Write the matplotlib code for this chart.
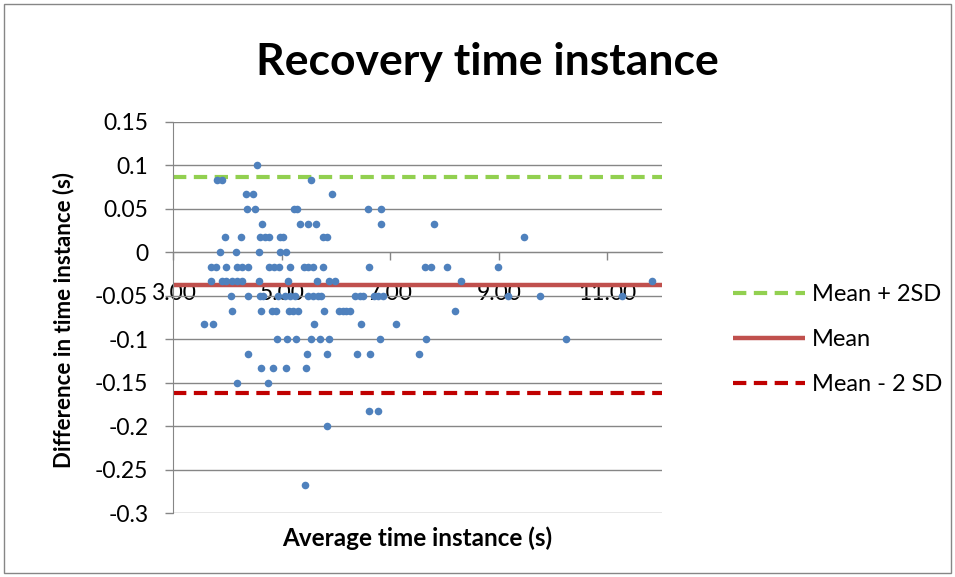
import matplotlib
matplotlib.use("Agg")
import matplotlib.pyplot as plt
from matplotlib.patches import Rectangle

plt.rcParams['font.family'] = ['Lato', 'DejaVu Sans']

# ---- data ----
avg_time = [
    4.54,
    3.81, 3.89, 5.53,
    4.34, 4.47, 5.93,
    4.36, 4.51, 5.23, 5.28, 6.59, 6.82,
    4.63, 5.33, 5.49, 5.63, 6.83, 7.81,
    3.96, 4.24, 4.60, 4.69, 4.77, 4.97, 5.03, 5.75, 5.84, 9.46,
    3.86, 4.15, 4.58, 4.97, 5.07,
    3.69, 3.79, 3.98, 4.17, 4.26, 4.38, 4.77, 4.86, 4.95, 5.15, 5.40, 5.49, 5.58, 5.76, 6.61, 7.64, 7.74, 8.05, 8.99,
    3.69, 3.89, 3.98, 4.08, 4.17, 4.26, 4.58, 5.12, 5.65, 5.87, 5.98, 8.30, 11.83,
    4.06, 4.38, 4.60, 4.66, 4.93, 5.06, 5.15, 5.24, 5.49, 5.58, 5.66, 5.73, 6.35, 6.44, 6.50, 6.69, 6.78, 6.87, 9.17, 9.76, 11.26,
    4.08, 4.62, 4.81, 4.89, 5.13, 5.21, 5.29, 5.78, 6.05, 6.12, 6.18, 6.26, 8.19,
    3.57, 3.74, 5.60, 6.45, 7.10,
    4.91, 5.09, 5.27, 5.53, 5.70, 5.86, 6.80, 7.66, 10.23,
    4.38, 5.46, 5.84, 6.39, 6.62, 7.53,
    4.62, 4.84, 5.08, 5.45,
    4.17, 4.75,
    6.61, 6.77,
    5.84,
    5.43,
]
diff_time = [
    0.100,
    0.083, 0.083, 0.083,
    0.067, 0.067, 0.067,
    0.050, 0.050, 0.050, 0.050, 0.050, 0.050,
    0.033, 0.033, 0.033, 0.033, 0.033, 0.033,
    0.017, 0.017, 0.017, 0.017, 0.017, 0.017, 0.017, 0.017, 0.017, 0.017,
    0.000, 0.000, 0.000, 0.000, 0.000,
    -0.017, -0.017, -0.017, -0.017, -0.017, -0.017, -0.017, -0.017, -0.017, -0.017, -0.017, -0.017, -0.017, -0.017, -0.017, -0.017, -0.017, -0.017, -0.017,
    -0.033, -0.033, -0.033, -0.033, -0.033, -0.033, -0.033, -0.033, -0.033, -0.033, -0.033, -0.033, -0.033,
    -0.050, -0.050, -0.050, -0.050, -0.050, -0.050, -0.050, -0.050, -0.050, -0.050, -0.050, -0.050, -0.050, -0.050, -0.050, -0.050, -0.050, -0.050, -0.050, -0.050, -0.050,
    -0.067, -0.067, -0.067, -0.067, -0.067, -0.067, -0.067, -0.067, -0.067, -0.067, -0.067, -0.067, -0.067,
    -0.083, -0.083, -0.083, -0.083, -0.083,
    -0.100, -0.100, -0.100, -0.100, -0.100, -0.100, -0.100, -0.100, -0.100,
    -0.117, -0.117, -0.117, -0.117, -0.117, -0.117,
    -0.133, -0.133, -0.133, -0.133,
    -0.150, -0.150,
    -0.183, -0.183,
    -0.200,
    -0.267,
]
line_x = [3.0, 12.0]
mean_val = -0.038
upper_val = 0.086
lower_val = -0.162
line_labels = ["Mean + 2SD", "Mean", "Mean - 2 SD"]
x_ticks = [3, 5, 7, 9, 11]
x_ticklabels = ["3.00", "5.00", "7.00", "9.00", "11.00"]
y_ticks = [0.15, 0.1, 0.05, 0, -0.05, -0.1, -0.15, -0.2, -0.25, -0.3]
y_ticklabels = ["0.15", "0.1", "0.05", "0", "-0.05", "-0.1", "-0.15", "-0.2", "-0.25", "-0.3"]

W, H = 955, 577
fig = plt.figure(figsize=(W / 100, H / 100), dpi=100)
fig.patch.set_facecolor('white')
ax = fig.add_axes([173.3 / W, 1 - 513.3 / H, (661.7 - 173.3) / W, (513.3 - 121.7) / H])

grid_c = '#868686'
ax.set_xlim(3, 12)
ax.set_ylim(-0.3, 0.15)
ax.set_yticks(y_ticks)
ax.set_yticklabels(y_ticklabels)
ax.set_xticks(x_ticks)
ax.set_xticklabels(x_ticklabels)
ax.yaxis.grid(True, color=grid_c, linewidth=1.0)
ax.set_axisbelow(True)
for s in ['top', 'right']:
    ax.spines[s].set_visible(False)
ax.spines['left'].set_color(grid_c)
ax.spines['bottom'].set_color(grid_c)
ax.spines['bottom'].set_position(('data', 0))
ax.tick_params(axis='both', colors=grid_c, direction='out', length=6, width=1,
               labelcolor='black', labelsize=16.5)
ax.tick_params(axis='x', pad=16)
ax.tick_params(axis='y', pad=12)

ax.scatter(avg_time, diff_time, s=30, color='#4F81BD', zorder=3, linewidths=0)
ax.plot(line_x, [upper_val, upper_val], color='#92D050', lw=3.0, ls=(0, (3.2, 1.8)),
        label=line_labels[0], zorder=2)
ax.plot(line_x, [mean_val, mean_val], color='#C0504D', lw=3.2, label=line_labels[1],
        zorder=2, solid_capstyle='butt')
ax.plot(line_x, [lower_val, lower_val], color='#C00000', lw=3.0, ls=(0, (3.2, 1.8)),
        label=line_labels[2], zorder=2)

fig.text(487 / W, 1 - 62 / H, "Recovery time instance", fontsize=32, fontweight='bold',
         ha='center', va='center')
fig.text(417.5 / W, 1 - 538 / H, "Average time instance (s)", fontsize=17.5,
         fontweight='bold', ha='center', va='center')
fig.text(64 / W, 1 - 320 / H, "Difference in time instance (s)", fontsize=16,
         fontweight='bold', ha='center', va='center', rotation=90)

fs = 17
fpx = fs * 100 / 72
leg = fig.legend(loc='center left', bbox_to_anchor=(733 / W, 1 - 339.5 / H),
                 frameon=False, fontsize=fs, handlelength=72 / fpx,
                 handletextpad=7 / fpx, labelspacing=(47.8 - fpx * 1.0) / fpx,
                 borderpad=0, borderaxespad=0)

fig.add_artist(Rectangle((4 / W, 4 / H), (951 - 4) / W, (573 - 4) / H,
                         transform=fig.transFigure, fill=False,
                         edgecolor=grid_c, linewidth=1))

fig.savefig("out.png", dpi=100)
